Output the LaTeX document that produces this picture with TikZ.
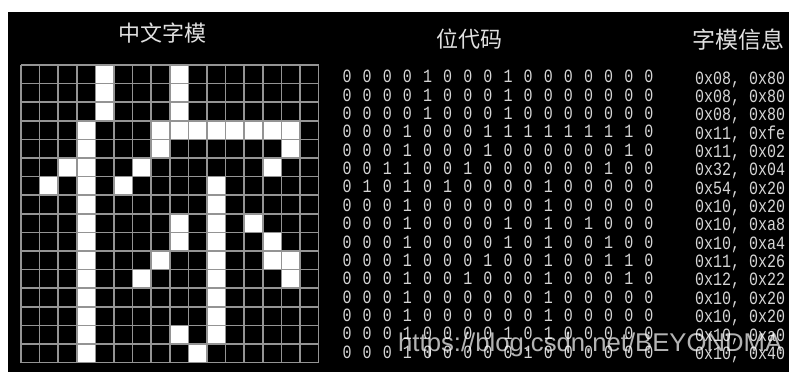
\documentclass[tikz,border=0pt]{standalone}
\usepackage{fontspec}
\newfontfamily\monof{Liberation Mono}
\newfontfamily\cjkf{Noto Sans CJK SC}
\newfontfamily\wmf{Liberation Sans}
\definecolor{gridgray}{gray}{0.58}
\definecolor{titlegray}{gray}{0.88}
\definecolor{codegray}{gray}{0.84}
\tikzset{
  title/.style={text=titlegray, inner sep=0pt, font=\cjkf\fontsize{22}{22}\selectfont},
  bitdigit/.style={text=codegray, inner sep=0pt, font=\monof\fontsize{15}{15}\selectfont},
  hexrow/.style={text=codegray, inner sep=0pt, anchor=west, font=\monof\fontsize{15}{15}\selectfont},
  onecell/.style={fill=white},
  gridline/.style={draw=gridgray, line width=1.5pt},
  watermark/.style={text=white, text opacity=0.7, inner sep=0pt, anchor=west, font=\wmf\fontsize{24}{24}\selectfont}
}
\begin{document}
\begin{tikzpicture}[x=1pt, y=-1pt]
\useasboundingbox (0,0) rectangle (789,372);
\fill[white] (0,0) rectangle (789,372);
\fill[black] (8,12) rectangle (789,372);
% titles
\node[title] (t1) at (162,33) {中文字模};
\node[title] (t2) at (469,39) {位代码};
\node[title, anchor=west, font=\cjkf\fontsize{23}{23}\selectfont] (t3) at (692,40) {字模信息};
% bitmap rows
\foreach \row [count=\i from 0] in {
 {0,0,0,0,1,0,0,0,1,0,0,0,0,0,0,0},
 {0,0,0,0,1,0,0,0,1,0,0,0,0,0,0,0},
 {0,0,0,0,1,0,0,0,1,0,0,0,0,0,0,0},
 {0,0,0,1,0,0,0,1,1,1,1,1,1,1,1,0},
 {0,0,0,1,0,0,0,1,0,0,0,0,0,0,1,0},
 {0,0,1,1,0,0,1,0,0,0,0,0,0,1,0,0},
 {0,1,0,1,0,1,0,0,0,0,1,0,0,0,0,0},
 {0,0,0,1,0,0,0,0,0,0,1,0,0,0,0,0},
 {0,0,0,1,0,0,0,0,1,0,1,0,1,0,0,0},
 {0,0,0,1,0,0,0,0,1,0,1,0,0,1,0,0},
 {0,0,0,1,0,0,0,1,0,0,1,0,0,1,1,0},
 {0,0,0,1,0,0,1,0,0,0,1,0,0,0,1,0},
 {0,0,0,1,0,0,0,0,0,0,1,0,0,0,0,0},
 {0,0,0,1,0,0,0,0,0,0,1,0,0,0,0,0},
 {0,0,0,1,0,0,0,0,1,0,1,0,0,0,0,0},
 {0,0,0,1,0,0,0,0,0,1,0,0,0,0,0,0}} {
  \foreach \b [count=\j from 0] in \row {
    \ifnum\b=1
      \fill[onecell] ({21+\j*18.6},{65+\i*18.6}) rectangle ++(18.6,18.6);
    \fi
    \node[bitdigit] (bit-\i-\j) at ({347+\j*20.13},{76.7+\i*18.35}) {\scalebox{1}[1.25]{\b}};
  }
}
% grid lines
\foreach \k in {0,...,16} {
  \draw[gridline] ({21+\k*18.6},65) -- ({21+\k*18.6},362.6);
  \draw[gridline] (21,{65+\k*18.6}) -- (318.6,{65+\k*18.6});
}
% hex column
\foreach \h [count=\i from 0] in {
 {0x08, 0x80},{0x08, 0x80},{0x08, 0x80},{0x11, 0xfe},
 {0x11, 0x02},{0x32, 0x04},{0x54, 0x20},{0x10, 0x20},
 {0x10, 0xa8},{0x10, 0xa4},{0x11, 0x26},{0x12, 0x22},
 {0x10, 0x20},{0x10, 0x20},{0x10, 0xa0},{0x10, 0x40}} {
  \node[hexrow] (hex-\i) at (695,{79.5+\i*18.35}) {\scalebox{1}[1.25]{\h}};
}
% watermark
\node[watermark] (wm) at (398,345) {\resizebox{384pt}{!}{https://blog.csdn.net/BEYONDMA}};
\end{tikzpicture}
\end{document}
